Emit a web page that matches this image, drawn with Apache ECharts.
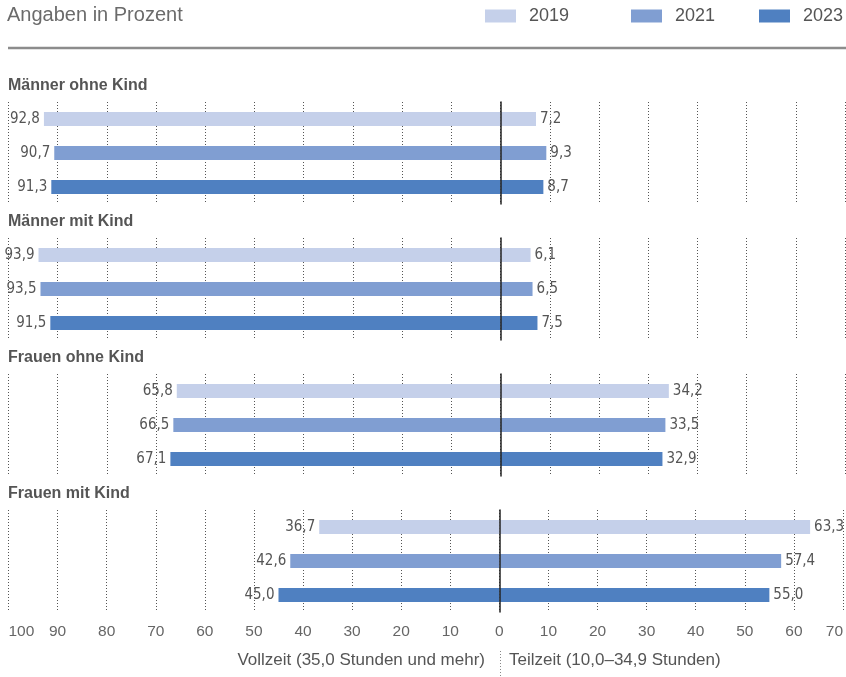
<!DOCTYPE html>
<html>
<head>
<meta charset="utf-8">
<script src="https://cdn.jsdelivr.net/npm/echarts@6/dist/echarts.min.js"></script>
<style>
html,body{margin:0;padding:0;background:#fff;}
#chart{width:846px;height:677px;}
</style>
</head>
<body>
<div id="chart"></div>
<script>
// ---- data ----
const years = ['2019', '2021', '2023'];
const groups = ['Männer ohne Kind', 'Männer mit Kind', 'Frauen ohne Kind', 'Frauen mit Kind'];
const vollzeit = [
  [92.8, 90.7, 91.3],
  [93.9, 93.5, 91.5],
  [65.8, 66.5, 67.1],
  [36.7, 42.6, 45.0]
];
const teilzeit = [
  [7.2, 9.3, 8.7],
  [6.1, 6.5, 7.5],
  [34.2, 33.5, 32.9],
  [63.3, 57.4, 55.0]
];
const axisMin = -100, axisMax = 70, axisStep = 10;
const headerText = 'Angaben in Prozent';
const leftCaption = 'Vollzeit (35,0 Stunden und mehr)';
const rightCaption = 'Teilzeit (10,0–34,9 Stunden)';

// ---- styles ----
const colors = ['#c5d0ea', '#809ed2', '#4f80c1'];
const narrow = "'DejaVu Sans Condensed', 'Liberation Sans Narrow', 'Arial Narrow', sans-serif";
const sans = "'Liberation Sans', Arial, Helvetica, sans-serif";
const gridTop0 = 102, groupStep = 136, gridH = 102;

function fmt(v) { return Math.abs(v).toFixed(1).replace('.', ','); }

const grids = [], xAxes = [], yAxes = [], series = [], titles = [];

titles.push({
  text: headerText, left: 7, top: 5, padding: 0,
  textStyle: { fontFamily: sans, fontSize: 20, fontWeight: 'normal', color: '#6b6b6b' }
});

groups.forEach((g, gi) => {
  const top = gridTop0 + gi * groupStep;
  grids.push({ left: 8.5, right: 1, top: top, height: gridH, containLabel: false });
  titles.push({
    text: g, left: 8, top: top - 24, padding: 0,
    textStyle: { fontFamily: sans, fontSize: 16, fontWeight: 'bold', color: '#555' }
  });
  const last = gi === groups.length - 1;
  xAxes.push({
    type: 'value', gridIndex: gi, min: axisMin, max: axisMax, interval: axisStep,
    axisLine: { show: false }, axisTick: { show: false },
    splitLine: { show: true, lineStyle: { color: '#555', width: 1, type: [1, 2] } },
    axisLabel: {
      show: last, margin: 12, fontFamily: sans, fontSize: 15.5, color: '#666',
      alignMinLabel: 'left', alignMaxLabel: 'right',
      formatter: v => String(Math.abs(v))
    }
  });
  yAxes.push({
    type: 'category', gridIndex: gi, data: years, inverse: true, z: 10,
    axisLine: { show: true, onZero: true, lineStyle: { color: '#222', width: 1.5 } },
    axisTick: { show: false }, axisLabel: { show: false }, splitLine: { show: false }
  });
  years.forEach((y, yi) => {
    const left = years.map((_, k) => k === yi ? -vollzeit[gi][yi] : '-');
    const right = years.map((_, k) => k === yi ? teilzeit[gi][yi] : '-');
    const common = {
      type: 'bar', name: y, xAxisIndex: gi, yAxisIndex: gi, stack: 'g' + gi,
      barWidth: 14, itemStyle: { color: colors[yi] }, emphasis: { disabled: true }
    };
    series.push(Object.assign({}, common, {
      data: left,
      label: { show: true, position: 'left', distance: 4, formatter: p => fmt(p.value),
        fontFamily: narrow, fontSize: 15, color: '#555' }
    }));
    series.push(Object.assign({}, common, {
      data: right,
      label: { show: true, position: 'right', distance: 4, formatter: p => fmt(p.value),
        fontFamily: narrow, fontSize: 15, color: '#555' }
    }));
  });
});

titles.push({
  text: leftCaption, right: 361, top: 652, padding: 0,
  textStyle: { fontFamily: sans, fontSize: 17, fontWeight: 'normal', color: '#555' }
});
titles.push({
  text: rightCaption, left: 509, top: 652, padding: 0,
  textStyle: { fontFamily: sans, fontSize: 17, fontWeight: 'normal', color: '#555' }
});

const legendPos = [485, 631, 759];
const legends = years.map((y, i) => ({
  data: [y], left: legendPos[i], top: 7, padding: 0,
  itemWidth: 31, itemHeight: 13, icon: 'rect', selectedMode: false,
  textStyle: { fontFamily: sans, fontSize: 18, color: '#555', padding: [0, 0, 0, 8] }
}));

const chart = echarts.init(document.getElementById('chart'));
chart.setOption({
  animation: false,
  backgroundColor: '#fff',
  title: titles,
  legend: legends,
  grid: grids,
  xAxis: xAxes,
  yAxis: yAxes,
  series: series,
  graphic: [
    { type: 'line', shape: { x1: 8, y1: 48, x2: 846, y2: 48 },
      style: { stroke: '#8c8c8c', lineWidth: 2.5 } },
    { type: 'line', shape: { x1: 500.5, y1: 651, x2: 500.5, y2: 677 },
      style: { stroke: '#888', lineWidth: 1, lineDash: [1, 2] } }
  ]
});
</script>
</body>
</html>
